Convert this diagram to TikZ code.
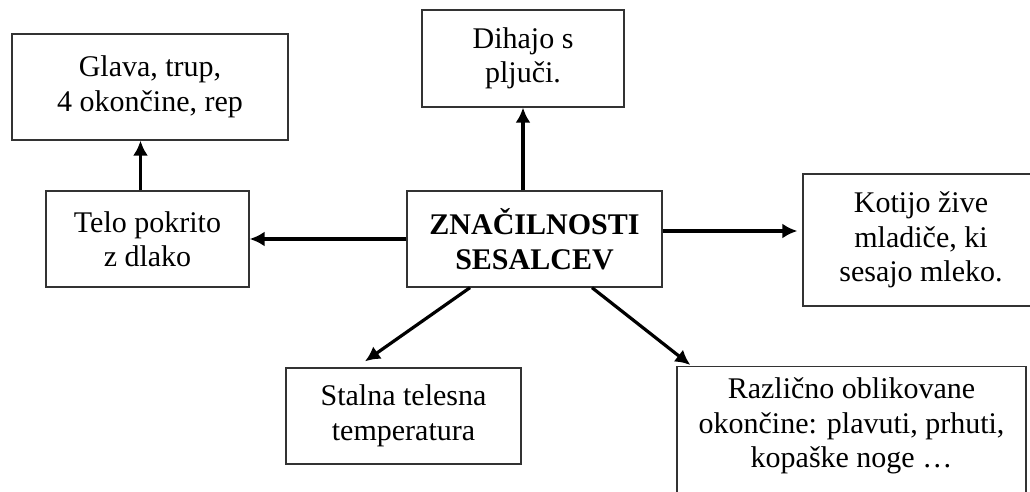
\documentclass[tikz,border=0pt]{standalone}
\usepackage{fontspec}
\setmainfont{Liberation Serif}
\usetikzlibrary{arrows.meta}
\tikzset{>={Latex[length=15pt,width=15pt]},
    box/.style={draw=black!80, line width=1.3pt, inner sep=0pt, align=center,
      font=\fontsize{30}{34.5}\selectfont},
    mainbox/.style={box, font=\fontsize{30}{34.5}\selectfont\bfseries},
    link/.style={->, line width=3.2pt}}

\begin{document}
\begin{tikzpicture}[x=1pt, y=-1pt]
    \useasboundingbox (0,0) rectangle (1030,492);
    \clip (0,0) rectangle (1030,492);
    \node[mainbox, minimum width=255, minimum height=96] (center) at (534.5,239) {ZNAČILNOSTI\\SESALCEV};
    \node[box, minimum width=276, minimum height=106] (glava) at (150,87) {Glava, trup,\\4 okončine, rep};
    \node[box, minimum width=202, minimum height=97] (dihajo) at (523,58.5) {Dihajo s\\pljuči.};
    \node[box, minimum width=203, minimum height=96] (telo) at (147.5,239) {Telo pokrito\\z dlako};
    \node[box, minimum width=236, minimum height=132] (kotijo) at (921,240) {Kotijo žive\\mladiče, ki\\sesajo mleko.};
    \node[box, minimum width=235, minimum height=96] (stalna) at (403.5,416) {Stalna telesna\\temperatura};
    \node[box, minimum width=349, text height=101pt, text depth=39pt, anchor=north] (razl) at (851.5,366)
      {Različno oblikovane\\okončine: plavuti, prhuti,\\kopaške noge \dots};
    \draw[link] (center.north -| dihajo.south) -- (dihajo.south);
    \draw[link] (center.west) -- (telo.east);
    \draw[link] ([xshift=-7pt]telo.north) -- ([xshift=-7pt]telo.north |- glava.south);
    \draw[link] ([yshift=8pt]center.east) -- ([xshift=-5pt,yshift=8pt]center.east -| kotijo.west);
    \draw[link] ([xshift=-64.5pt]center.south) -- ([xshift=-38.5pt,yshift=6pt]stalna.north);
    \draw[link] ([xshift=57.5pt]center.south) -- ([xshift=14pt,yshift=1pt]razl.north west);
\end{tikzpicture}
\end{document}
